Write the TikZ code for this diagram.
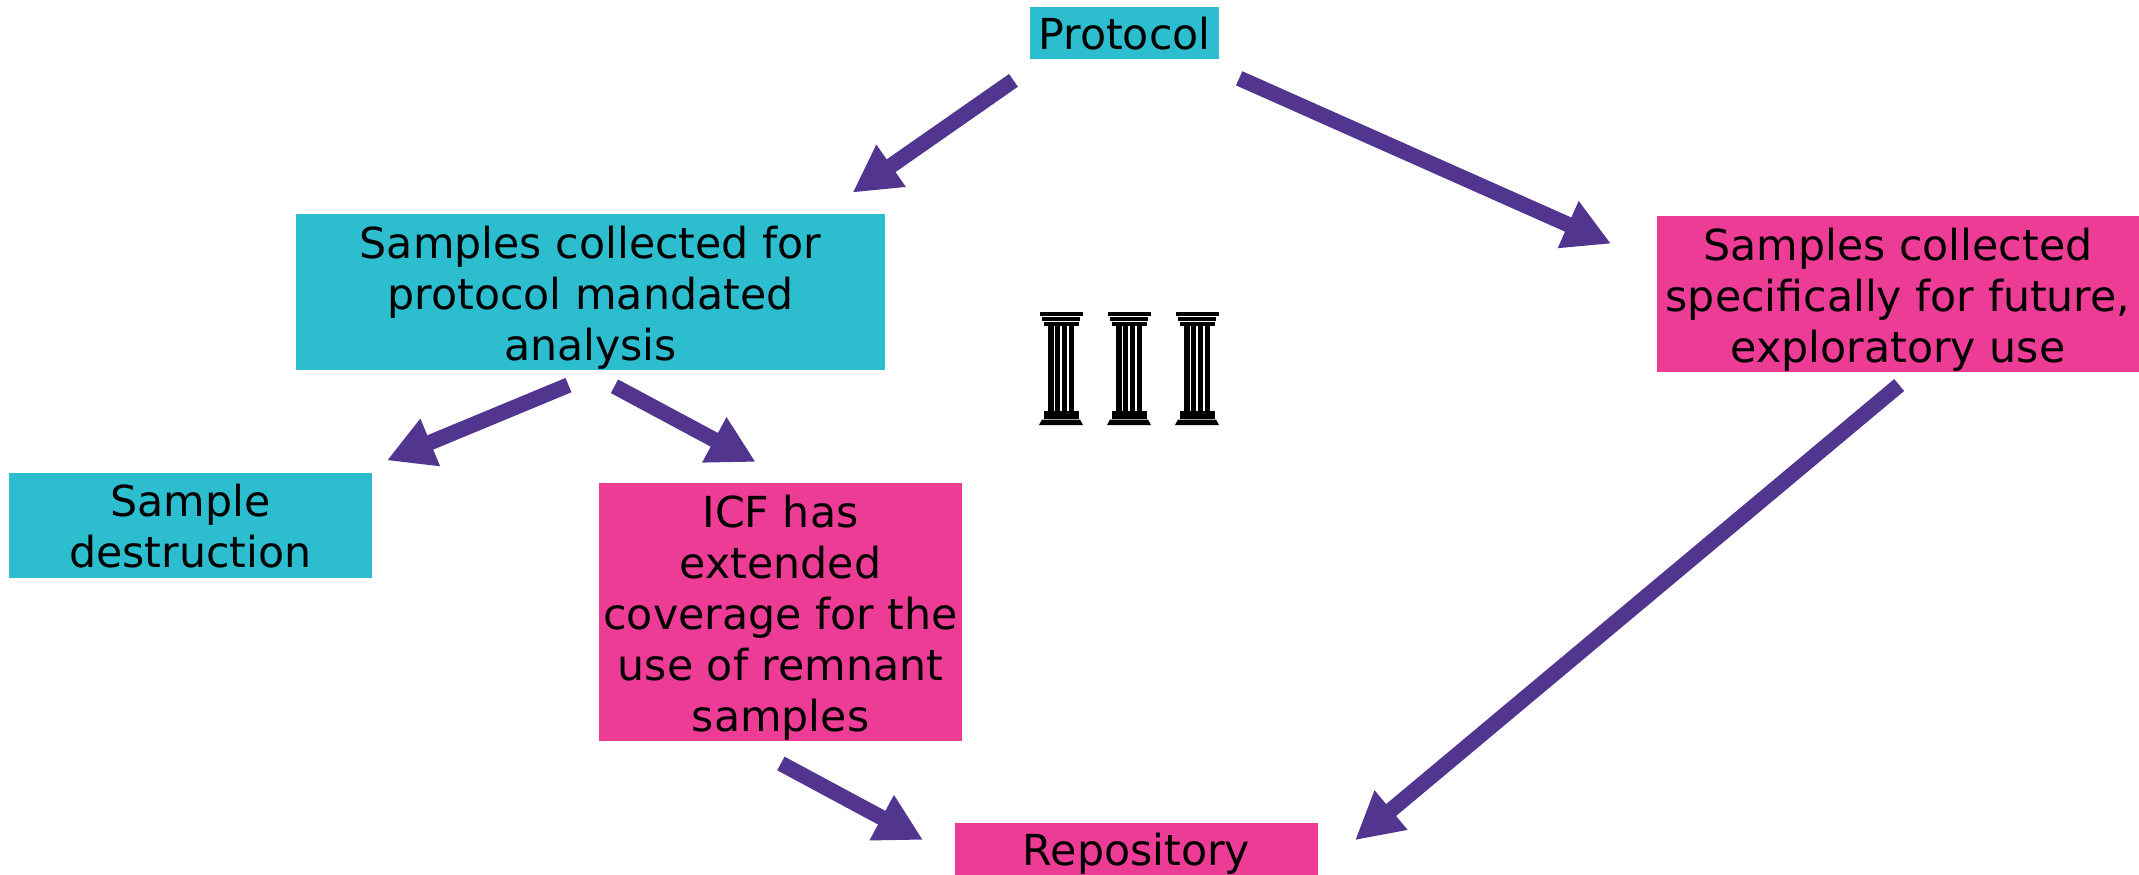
\documentclass[tikz,border=0pt]{standalone}
\usepackage{fontspec}
\setmainfont{DejaVu Sans}
\usetikzlibrary{arrows.meta}
\definecolor{tealfill}{HTML}{2CBDCF}
\definecolor{pinkfill}{HTML}{EC3C96}
\definecolor{arrowpurple}{HTML}{51358F}
\newcommand{\toprow}{\rule{0pt}{44pt}}
\tikzset{
  boxtext/.style={inner sep=0pt, align=center, font=\fontsize{42.7}{51}\selectfont,
    execute at begin node={\rule{0pt}{42pt}}, execute at end node={\rule[-10pt]{0pt}{10pt}}},
  tealbox/.style={boxtext, fill=tealfill},
  pinkbox/.style={boxtext, fill=pinkfill},
  flowarrow/.style={draw=arrowpurple, line width=15.5pt, -{Triangle[length=47pt,width=48pt,fill=arrowpurple]}}
}
\begin{document}
\begin{tikzpicture}[x=1pt,y=-1pt]
    \useasboundingbox (0,0) rectangle (2139,875);

    % Boxen
    \node[tealbox, minimum width=189pt, minimum height=52pt] (protocol) at (1124.5,33) {Protocol};
    \node[tealbox, minimum width=589pt, minimum height=156pt] (mandated) at (590.5,292) {\toprow Samples collected for\\protocol mandated\\analysis};
    \node[pinkbox, minimum width=482pt, minimum height=156pt] (future) at (1898,294) {\toprow Samples collected\\specifically for future,\\exploratory use};
    \node[tealbox, minimum width=363pt, minimum height=104pt] (destruction) at (190.5,525) {\toprow Sample\\destruction};
    \node[pinkbox, minimum width=363pt, minimum height=258pt] (icf) at (780.5,612) {\toprow ICF has\\extended\\coverage for the\\use of remnant\\samples};
    \node[pinkbox, minimum width=363pt, minimum height=52pt] (repository) at (1136.5,849) {Repository};

    % Pfeile
    \draw[flowarrow, shorten <=37pt, shorten >=37pt] ([xshift=14pt]protocol.south west) -- ([xshift=-63pt]mandated.north east);
    \draw[flowarrow, shorten <=47pt, shorten >=50pt] ([xshift=-23pt]protocol.south east) -- ([yshift=30pt]future.west);
    \draw[flowarrow, shorten <=39pt, shorten >=31pt] ([xshift=14pt]mandated.south) -- ([xshift=-14pt]destruction.north east);
    \draw[flowarrow, shorten <=34pt, shorten >=44pt] ([xshift=-6pt]mandated.south) -- ([xshift=14pt]icf.north);
    \draw[flowarrow, shorten <=47pt, shorten >=36pt] ([xshift=-41pt]icf.south) -- ([yshift=-8pt]repository.west);
    \draw[flowarrow, shorten <=20pt, shorten >=48pt] ([xshift=16.5pt]future.south) -- ([yshift=-22pt]repository.east);

    % Saeulen
    \foreach \cx in {1061,1129,1197} {
        \fill[black] (\cx-21.5,312) rectangle (\cx+21.5,316);
        \fill[black] (\cx-19,317) rectangle (\cx+19,321);
        \fill[black] (\cx-17.5,322) rectangle (\cx+17.5,325.5);
        \fill[black] (\cx-13,325) rectangle (\cx+13,411);
        \fill[white] (\cx-7.5,325.5) rectangle (\cx-6,410.5);
        \fill[white] (\cx-.75,325.5) rectangle (\cx+.75,410.5);
        \fill[white] (\cx+6,325.5) rectangle (\cx+7.5,410.5);
        \fill[black] (\cx-17.5,410.5) rectangle (\cx+17.5,414.5);
        \fill[black] (\cx-17.5,415) rectangle (\cx+17.5,418.5);
        \fill[black] (\cx-19,419.5) -- (\cx+19,419.5) -- (\cx+22,425) -- (\cx-22,425) -- cycle;
    }
\end{tikzpicture}
\end{document}
